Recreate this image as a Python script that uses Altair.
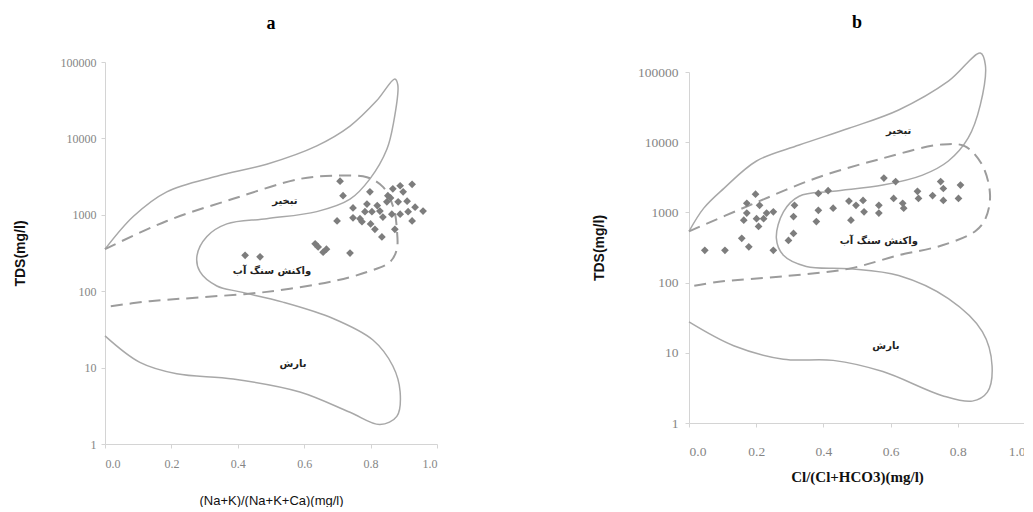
import altair as alt
import pandas as pd

# ---------------- Panel a : (Na+K)/(Na+K+Ca) ----------------
a_outer_x = [0.0, 0.085, 0.186, 0.337, 0.487, 0.638, 0.738, 0.818, 0.873, 0.882, 0.869, 0.849, 0.798, 0.738,
             0.638, 0.487, 0.367, 0.307, 0.277, 0.286, 0.337, 0.407, 0.536, 0.687, 0.807, 0.867, 0.889,
             0.879, 0.828, 0.738, 0.587, 0.386, 0.216, 0.105, 0.0]
a_outer_y = [355, 950, 2000, 3200, 4600, 8000, 14500, 31000, 60000, 50000, 16000, 7200, 2950, 1600,
             1100, 890, 760, 520, 290, 180, 117, 98, 72, 44, 23, 10.5, 4.8,
             2.3, 1.8, 2.6, 4.8, 7.1, 8.3, 11.7, 26]
a_dash_x = [0.0, 0.186, 0.386, 0.587, 0.687, 0.789, 0.838, 0.870, 0.879, 0.879, 0.858, 0.789, 0.687,
            0.487, 0.286, 0.135, 0.0]
a_dash_y = [355, 830, 1620, 2950, 3240, 3100, 2300, 1200, 650, 355, 240, 178, 135,
            98, 83, 74, 62]
a_pts_x = [0.422, 0.467, 0.633, 0.642, 0.657, 0.667, 0.699, 0.708, 0.717, 0.738, 0.747, 0.747, 0.768,
           0.774, 0.783, 0.789, 0.798, 0.804, 0.813, 0.828, 0.834, 0.837, 0.849, 0.852, 0.864, 0.867,
           0.873, 0.883, 0.889, 0.889, 0.898, 0.910, 0.913, 0.925, 0.925, 0.934, 0.958, 0.820, 0.860, 0.800]
a_pts_y = [295, 282, 417, 380, 324, 355, 832, 2750, 1780, 316, 1230, 912, 891,
           813, 1100, 1380, 2000, 1100, 646, 1120, 513, 933, 1480, 1780, 1020, 2190,
           646, 1480, 2400, 1020, 2000, 1510, 1100, 2510, 832, 1260, 1120, 1320, 1660, 760]
a_lab_x = [0.542, 0.503, 0.566]
a_lab_y = [1510, 182, 11.2]

# ---------------- Panel b : Cl/(Cl+HCO3) ----------------
b_outer_x = [0.0, 0.044, 0.104, 0.201, 0.328, 0.476, 0.624, 0.772, 0.867, 0.882, 0.867, 0.831, 0.772,
             0.695, 0.577, 0.429, 0.328, 0.281, 0.260, 0.281, 0.349, 0.476, 0.624, 0.772, 0.873,
             0.902, 0.888, 0.843, 0.754, 0.577, 0.429, 0.281, 0.133, 0.0]
b_outer_y = [537, 1150, 2200, 5400, 9100, 15800, 28800, 74000, 186000, 126000, 34000, 11500, 5400,
             3400, 2450, 2000, 1700, 1020, 430, 245, 170, 158, 126, 59, 20,
             6.5, 2.75, 2.05, 2.45, 5.4, 7.8, 8.1, 12.6, 27.5]
b_dash_x = [0.0, 0.180, 0.379, 0.577, 0.754, 0.822, 0.873, 0.896, 0.882, 0.852, 0.754, 0.624, 0.476,
            0.281, 0.083, 0.0]
b_dash_y = [537, 1260, 3090, 5900, 9300, 8700, 4700, 1740, 810, 540, 340, 245, 158,
            123, 102, 87]
b_pts_x = [0.047, 0.107, 0.157, 0.178, 0.172, 0.163, 0.172, 0.198, 0.210, 0.201, 0.207, 0.222, 0.231,
           0.251, 0.251, 0.296, 0.311, 0.311, 0.314, 0.385, 0.414, 0.385, 0.379, 0.429, 0.476, 0.497,
           0.518, 0.482, 0.521, 0.565, 0.565, 0.580, 0.615, 0.609, 0.636, 0.639, 0.680, 0.683, 0.725,
           0.749, 0.757, 0.757, 0.808, 0.802]
b_pts_y = [288, 288, 427, 324, 1350, 776, 977, 1820, 1260, 813, 631, 813, 977,
           1020, 288, 398, 501, 871, 1260, 1860, 2040, 1070, 741, 1150, 1450, 1260,
           1480, 776, 1020, 1260, 977, 3090, 2750, 1580, 1350, 1150, 2000, 1580, 1740,
           2750, 2190, 1480, 2450, 1580]
b_lab_x = [0.624, 0.565, 0.586]
b_lab_y = [14500, 390, 12.6]

labels = ["تبخیر", "واکنش سنگ آب", "بارش"]
x_ticks = [0.0, 0.2, 0.4, 0.6, 0.8, 1.0]
y_ticks = [1, 10, 100, 1000, 10000, 100000]


def panel(ox, oy, dx, dy, px, py, lx, ly, xtitle, xfont, xsize, xweight, ytitle_pad,
          title, title_offset, w, h, ytop, lab_size, xlab_pad, xtitle_pad, ylab_pad):
    outer = pd.DataFrame({"x": ox, "y": oy, "i": range(len(ox))})
    dash = pd.DataFrame({"x": dx, "y": dy, "i": range(len(dx))})
    pts = pd.DataFrame({"x": px, "y": py})
    labs = pd.DataFrame({"x": lx, "y": ly, "t": labels})

    xs = alt.Scale(domain=[0, 1], nice=False)
    ys = alt.Scale(type="log", domain=[1, 100000], nice=False, range=[h, ytop])
    xaxis = alt.Axis(values=x_ticks, format=".1f", grid=False, domainColor="#d4d4d4",
                     tickColor="#d4d4d4", tickSize=4, labelColor="#858585",
                     labelFont="Liberation Serif", labelFontSize=lab_size, labelPadding=xlab_pad,
                     title=xtitle, titleFont=xfont, titleFontSize=xsize,
                     titleFontWeight=xweight, titleColor="#111111", titlePadding=xtitle_pad)
    yaxis = alt.Axis(values=y_ticks, format="d", grid=False, domainColor="#d4d4d4",
                     tickColor="#d4d4d4", tickSize=4, labelColor="#858585",
                     labelFont="Liberation Serif", labelFontSize=lab_size, labelPadding=ylab_pad,
                     title="TDS(mg/l)", titleFont="Liberation Sans", titleFontSize=14,
                     titleFontWeight="bold", titleColor="#111111", titlePadding=ytitle_pad)

    X = alt.X("x:Q", scale=xs, axis=xaxis)
    Y = alt.Y("y:Q", scale=ys, axis=yaxis)

    l_outer = alt.Chart(outer).mark_line(color="#a8a8a8", strokeWidth=1.5,
                                         interpolate="catmull-rom").encode(
        x=X, y=Y, order=alt.Order("i:Q"))
    l_dash = alt.Chart(dash).mark_line(color="#9c9c9c", strokeWidth=2, strokeDash=[12, 7],
                                       interpolate="catmull-rom").encode(
        x=X, y=Y, order=alt.Order("i:Q"))
    l_pts = alt.Chart(pts).mark_point(shape="diamond", filled=True, color="#7d7d7d",
                                      size=60, opacity=1).encode(x=X, y=Y)
    l_txt = alt.Chart(labs).mark_text(font="DejaVu Sans", fontSize=10, fontWeight="bold",
                                      color="#222222").encode(x=X, y=Y, text="t:N")
    return alt.layer(l_outer, l_dash, l_pts, l_txt).properties(
        width=w, height=h,
        title=alt.TitleParams(title, font="Liberation Serif", fontSize=18, fontWeight="bold",
                              color="black", anchor="middle", offset=title_offset))


pa = panel(a_outer_x, a_outer_y, a_dash_x, a_dash_y, a_pts_x, a_pts_y, a_lab_x, a_lab_y,
           "(Na+K)/(Na+K+Ca)(mg/l)", "Liberation Sans", 13, "normal", 33, "a", 23, 332, 382, 0,
           12, 10, 25, 5)
pb = panel(b_outer_x, b_outer_y, b_dash_x, b_dash_y, b_pts_x, b_pts_y, b_lab_x, b_lab_y,
           "Cl/(Cl+HCO3)(mg/l)", "Liberation Serif", 15, "bold", 31, "b", 18, 336, 361, 10,
           13.5, 17, 12, 7)

chart = alt.hconcat(pa, pb, spacing=154).properties(
    padding={"left": 5, "top": 6, "right": -2, "bottom": 0}
).configure_view(stroke=None)

chart.save("out.html", embed_options={"renderer": "svg", "actions": False})
